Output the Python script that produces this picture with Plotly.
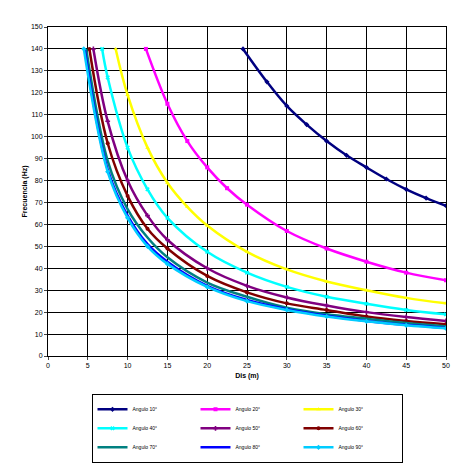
import plotly.graph_objects as go

# readings: distance (m) vs frequency (Hz) per angle
labels = ["Angulo 10°", "Angulo 20°", "Angulo 30°", "Angulo 40°", "Angulo 50°",
          "Angulo 60°", "Angulo 70°", "Angulo 80°", "Angulo 90°"]
colors = ["#000080", "#FF00FF", "#FFFF00", "#00FFFF", "#800080",
          "#800000", "#008080", "#0000FF", "#00CCFF"]
symbols = ["diamond", "square", "triangle-up", "x", "cross",
           "circle", "line-ns", "line-ew", "diamond"]

x10 = [24.5, 27.5, 30, 32.5, 35, 37.5, 40, 42.5, 45, 47.5, 50]
y10 = [140, 125, 114, 105.5, 98, 91.5, 86, 80.7, 76, 72, 68.5]
x20 = [12.3, 15, 17.5, 20, 22.5, 25, 30, 35, 40, 45, 50]
y20 = [140, 115, 98, 86, 76.5, 69, 57, 49, 43, 38, 34.5]
x30 = [8.5, 10, 12.5, 15, 17.5, 20, 25, 30, 35, 40, 45, 50]
y30 = [140, 119, 95, 79, 68, 59.5, 47.5, 39.5, 34, 30, 26.5, 24]
x40 = [6.8, 7.5, 10, 12.5, 15, 20, 25, 30, 35, 40, 45, 50]
y40 = [140, 127, 95, 76, 63, 47.5, 38, 31.5, 27, 23.8, 21, 19]
xs = [7.5, 10, 12.5, 15, 20, 25, 30, 35, 40, 45, 50]
x50 = [5.7] + xs
y50 = [140, 107, 80, 64, 53, 40, 32, 26.7, 23, 20, 17.8, 16]
x60 = [5.2] + xs
y60 = [140, 97, 73, 58, 49, 36.5, 29, 24, 21, 18, 16, 14.5]
x70 = [4.8] + xs
y70 = [140, 89, 67, 54, 45, 33.5, 27, 22, 19, 17, 15, 13.5]
x80 = [4.6] + xs
y80 = [140, 85, 64, 51, 43, 32, 25.5, 21.3, 18.3, 16, 14.2, 12.8]
x90 = [4.5] + xs
y90 = [140, 84, 63, 50, 42, 31.5, 25, 21, 18, 15.8, 14, 12.6]

xsets = [x10, x20, x30, x40, x50, x60, x70, x80, x90]
ysets = [y10, y20, y30, y40, y50, y60, y70, y80, y90]

fig = go.Figure()
for lab, col, sym, xv, yv in zip(labels, colors, symbols, xsets, ysets):
    fig.add_trace(go.Scatter(x=xv, y=yv, name=lab, mode="lines+markers",
                             line=dict(color=col, width=2.5, shape="spline"),
                             marker=dict(color=col, size=4, symbol=sym)))

fig.update_layout(
    width=467, height=467, plot_bgcolor="white", paper_bgcolor="white",
    margin=dict(l=40, r=29, t=19, b=105),
    font=dict(family="Arial, Liberation Sans", size=7, color="black"),
    showlegend=True,
    legend=dict(orientation="h", x=0.5, xanchor="center", y=-0.115, yanchor="top",
                bordercolor="black", borderwidth=1, font=dict(size=5),
                itemwidth=30, entrywidth=58, tracegroupgap=0),
)
fig.update_xaxes(range=[0, 50], dtick=5, showgrid=True, gridcolor="black", gridwidth=1,
                 showline=True, linecolor="black", mirror=True, ticks="outside",
                 ticklen=3, zeroline=False,
                 title=dict(text="<b>Dis (m)</b>", standoff=4, font=dict(size=7)))
fig.update_yaxes(range=[0, 150], dtick=10, showgrid=True, gridcolor="black", gridwidth=1,
                 showline=True, linecolor="black", mirror=True, ticks="outside",
                 ticklen=3, zeroline=False,
                 title=dict(text="<b>Frecuencia (Hz)</b>", standoff=2, font=dict(size=7)))

fig.write_html("out.html")
